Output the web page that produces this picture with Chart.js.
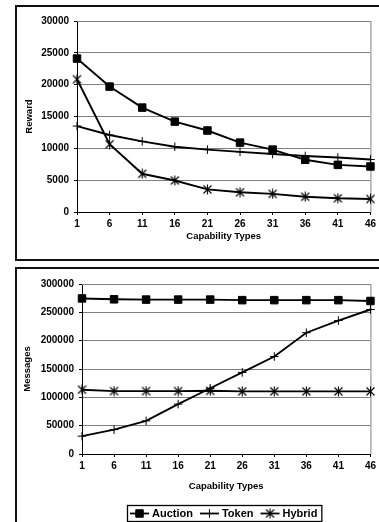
<!DOCTYPE html>
<html>
<head>
<meta charset="utf-8">
<script src="https://cdn.jsdelivr.net/npm/chart.js@4.4.1/dist/chart.umd.min.js"></script>
<style>
  html, body { margin:0; padding:0; background:#fff; }
  #wrap { position:relative; width:379px; height:522px; overflow:hidden; background:#fff; }
  .box { position:absolute; border:2px solid #111; box-sizing:border-box; }
  canvas { position:absolute; left:0; }
</style>
</head>
<body>
<div id="wrap">
  <div class="box" style="left:15px; top:5px; width:420px; height:256px;"></div>
  <div class="box" style="left:15px; top:267px; width:420px; height:300px;"></div>
  <canvas id="c1" style="top:0px;" width="379" height="262"></canvas>
  <canvas id="c2" style="top:262px;" width="379" height="260"></canvas>
</div>
<script>
// ---- data ----
const capabilityTypes = ['1','6','11','16','21','26','31','36','41','46'];
const seriesNames = ['Auction','Token','Hybrid'];

const rewardAuction = [24100, 19700, 16400, 14200, 12800, 10900, 9800, 8200, 7400, 7150];
const rewardToken   = [13500, 12100, 11100, 10250, 9800, 9450, 9100, 8800, 8550, 8250];
const rewardHybrid  = [20850, 10650, 6000, 4950, 3550, 3100, 2850, 2400, 2150, 2050];

const msgAuction = [274500, 273000, 272500, 272500, 272500, 271500, 271500, 271500, 271500, 270000];
const msgToken   = [31500, 43000, 58500, 88000, 116000, 144000, 172000, 214000, 235500, 255000];
const msgHybrid  = [113500, 111000, 111000, 111000, 111500, 110500, 110500, 110500, 110500, 110500];

const rewardTicks = { max: 30000, step: 5000 };
const msgTicks = { max: 300000, step: 50000 };

// ---- styles ----
const FONT = "'Liberation Sans', Arial, sans-serif";

function asteriskMarker() {
  const c = document.createElement('canvas');
  c.width = 11; c.height = 11;
  const g = c.getContext('2d');
  g.strokeStyle = '#000';
  g.lineWidth = 1.1;
  g.beginPath();
  g.moveTo(1.5, 1.5); g.lineTo(9.5, 9.5);
  g.moveTo(9.5, 1.5); g.lineTo(1.5, 9.5);
  g.moveTo(5.5, 0.5); g.lineTo(5.5, 10.5);
  g.stroke();
  return c;
}

const markerStyles = [
  { pointStyle: 'rect', pointRadius: 5.3, pointBorderWidth: 1 },
  { pointStyle: 'cross', pointRadius: 4.3, pointBorderWidth: 1 },
  { pointStyle: asteriskMarker(), pointRadius: 5, pointBorderWidth: 1 }
];

function makeDatasets(arrs) {
  return arrs.map((d, i) => Object.assign({
    label: seriesNames[i],
    data: d,
    borderColor: '#000',
    backgroundColor: '#000',
    pointBackgroundColor: '#000',
    pointBorderColor: '#000',
    borderWidth: 1.9,
    tension: 0,
    clip: false
  }, markerStyles[i]));
}

const plotFrame = {
  id: 'plotFrame',
  beforeDatasetsDraw(chart) {
    const a = chart.chartArea, ctx = chart.ctx;
    ctx.save();
    ctx.strokeStyle = '#808080';
    ctx.lineWidth = 1;
    ctx.beginPath();
    ctx.moveTo(a.left, a.top + 0.5);
    ctx.lineTo(a.right + 0.5, a.top + 0.5);
    ctx.lineTo(a.right + 0.5, a.bottom);
    ctx.stroke();
    ctx.restore();
  }
};

const boxLegend = {
  id: 'boxLegend',
  afterDraw(chart, args, opts) {
    if (!opts.show) return;
    const ctx = chart.ctx;
    ctx.save();
    ctx.font = "bold 11px " + FONT;
    const lineLen = 19, gapText = 3, gapItem = 7, padL = 3, padR = 4;
    const items = chart.data.datasets.map(ds => ({ ds, w: ctx.measureText(ds.label).width }));
    let total = padL + padR;
    items.forEach((it, i) => { total += lineLen + gapText + it.w + (i < items.length - 1 ? gapItem : 0); });
    const left = Math.round(opts.cx - total / 2), top = opts.top, h = opts.height;
    ctx.strokeStyle = '#000';
    ctx.lineWidth = 1.3;
    ctx.strokeRect(left + 0.5, top + 0.5, total, h);
    const cy = top + h / 2 + 0.5;
    let x = left + padL;
    items.forEach(it => {
      const ds = it.ds;
      ctx.strokeStyle = '#000';
      ctx.lineWidth = 1.8;
      ctx.beginPath(); ctx.moveTo(x, cy); ctx.lineTo(x + lineLen, cy); ctx.stroke();
      ctx.fillStyle = '#000';
      ctx.lineWidth = 1;
      Chart.helpers.drawPoint(ctx, { pointStyle: ds.pointStyle, radius: ds.pointRadius, borderWidth: 1 }, x + lineLen / 2, cy);
      x += lineLen + gapText;
      ctx.fillStyle = '#000';
      ctx.textBaseline = 'middle';
      ctx.textAlign = 'left';
      ctx.fillText(ds.label, x, cy + 0.5);
      x += it.w + gapItem;
    });
    ctx.restore();
  }
};

function makeChart(id, arrs, yTitle, ticksCfg, geo) {
  return new Chart(document.getElementById(id), {
    type: 'line',
    data: { labels: capabilityTypes, datasets: makeDatasets(arrs) },
    plugins: [plotFrame, boxLegend],
    options: {
      responsive: false,
      animation: false,
      events: [],
      layout: { padding: { left: 0, right: geo.padRight, top: geo.padTop, bottom: geo.padBottom } },
      plugins: {
        legend: { display: false },
        tooltip: { enabled: false },
        boxLegend: geo.legend
      },
      scales: {
        x: {
          type: 'category',
          offset: false,
          afterFit: s => { s.height = geo.xHeight; },
          grid: { display: true, drawOnChartArea: false, drawTicks: true, tickLength: 3, tickColor: '#000', color: '#000' },
          border: { display: true, color: '#000', width: 1 },
          ticks: { color: '#000', padding: 3, maxRotation: 0, autoSkip: false, font: { family: FONT, size: 10, weight: 'bold' } },
          title: { display: true, text: 'Capability Types', color: '#000', padding: { top: 0, bottom: geo.xTitlePad }, font: { family: FONT, size: 9.5, weight: 'bold' } }
        },
        y: {
          min: 0, max: ticksCfg.max,
          afterFit: s => { s.width = geo.yWidth; },
          grid: { color: '#808080', lineWidth: 1, drawTicks: true, tickLength: 3, tickColor: '#000' },
          border: { display: true, color: '#000', width: 1 },
          ticks: { stepSize: ticksCfg.step, color: '#000', padding: 5, callback: v => String(v), font: { family: FONT, size: 10, weight: 'bold' } },
          title: { display: true, text: yTitle, color: '#000', padding: { top: geo.yTitlePad, bottom: 0 }, font: { family: FONT, size: 9.5, weight: 'bold' } }
        }
      }
    }
  });
}

makeChart('c1', [rewardAuction, rewardToken, rewardHybrid], 'Reward', rewardTicks,
  { padRight: 7, padTop: 21, padBottom: 0, xHeight: 50, yWidth: 77, xTitlePad: 20, yTitlePad: 24, legend: { show: false } });

makeChart('c2', [msgAuction, msgToken, msgHybrid], 'Messages', msgTicks,
  { padRight: 7, padTop: 22, padBottom: 28, xHeight: 40, yWidth: 82, xTitlePad: 2, yTitlePad: 22,
    legend: { show: true, cx: 224, top: 243, height: 16 } });
</script>
</body>
</html>
